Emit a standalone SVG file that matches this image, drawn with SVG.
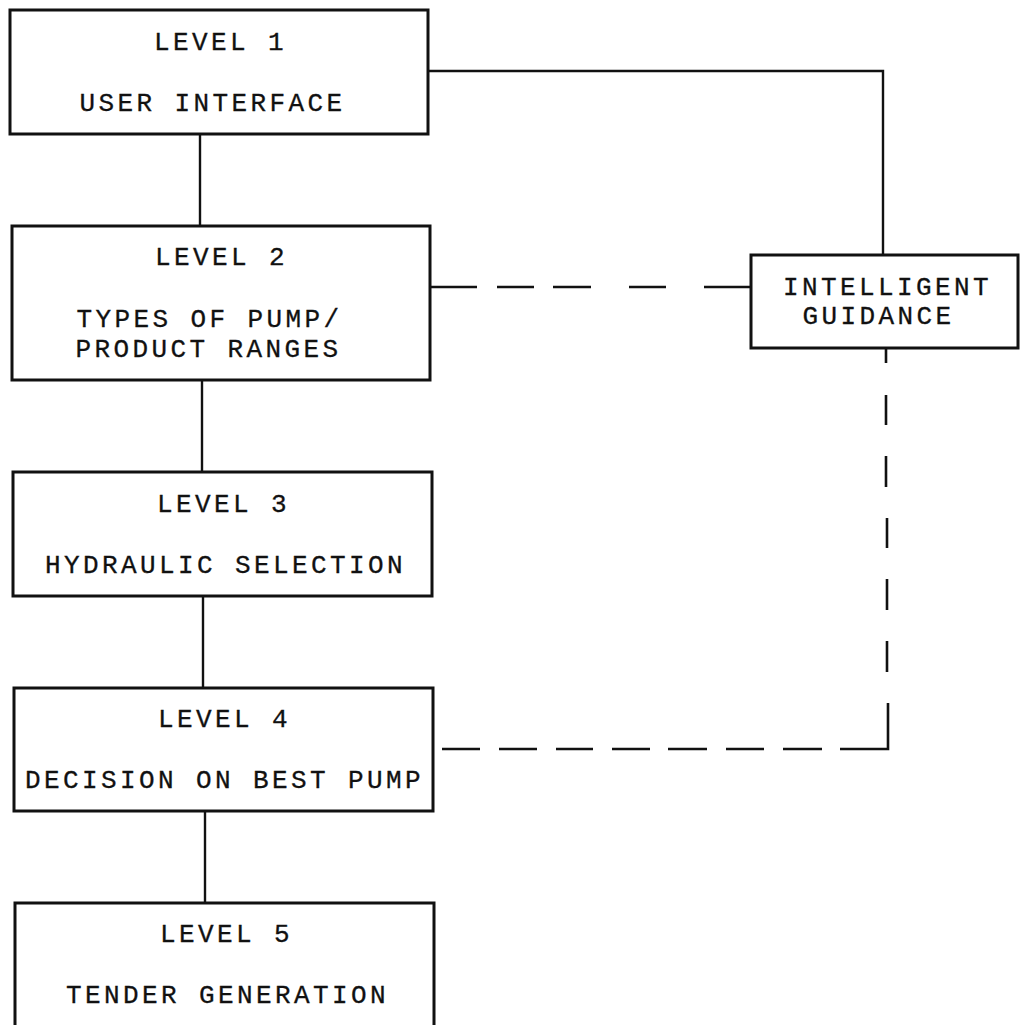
<svg xmlns="http://www.w3.org/2000/svg" width="1021" height="1025" viewBox="0 0 1021 1025">
  <style>
    .box { fill: none; stroke: #111; stroke-width: 3; }
    .link { stroke: #111; stroke-width: 2.4; fill: none; }
    .dash { stroke: #111; stroke-width: 2.6; fill: none; }
    text { font-family: "Liberation Mono", "Courier New", monospace; font-size: 26px; letter-spacing: 3.4px; fill: #111; text-anchor: middle; stroke: #111; stroke-width: 0.3; }
  </style>
  <rect width="1021" height="1025" fill="#fff"/>

  <g id="connectors">
    <!-- solid links down the level stack -->
    <line class="link" x1="200" y1="134" x2="200" y2="226"/>
    <line class="link" x1="202" y1="380" x2="202" y2="472"/>
    <line class="link" x1="203" y1="596" x2="203" y2="688"/>
    <line class="link" x1="205" y1="811" x2="205" y2="903"/>
    <!-- level 1 to guidance -->
    <polyline class="link" points="428,71 883,71 883,255"/>
    <!-- level 2 to guidance, dashed -->
    <g class="dash">
      <line x1="431" y1="287" x2="477" y2="287"/>
      <line x1="497" y1="287" x2="534" y2="287"/>
      <line x1="553" y1="287" x2="591" y2="287"/>
      <line x1="629" y1="287" x2="666" y2="287"/>
      <line x1="704" y1="287" x2="751" y2="287"/>
    </g>
    <!-- guidance to level 4, dashed -->
    <g class="dash">
      <line x1="886" y1="348" x2="886" y2="363"/>
      <line x1="886" y1="395" x2="886" y2="425"/>
      <line x1="886" y1="456" x2="886" y2="487"/>
      <line x1="887" y1="518" x2="887" y2="548"/>
      <line x1="887" y1="579" x2="887" y2="610"/>
      <line x1="887" y1="641" x2="887" y2="672"/>
      <polyline points="888,703 888,749 840,749"/>
      <line x1="783" y1="749" x2="822" y2="749"/>
      <line x1="726" y1="749" x2="764" y2="749"/>
      <line x1="668" y1="749" x2="707" y2="749"/>
      <line x1="612" y1="749" x2="650" y2="749"/>
      <line x1="556" y1="749" x2="593" y2="749"/>
      <line x1="499" y1="749" x2="537" y2="749"/>
      <line x1="442" y1="749" x2="480" y2="749"/>
    </g>
  </g>

  <g id="level1">
    <rect class="box" x="10" y="10" width="418" height="124"/>
    <text x="220.5" y="50">LEVEL 1</text>
    <text x="212.5" y="111">USER INTERFACE</text>
  </g>

  <g id="level2">
    <rect class="box" x="12" y="226" width="418" height="154"/>
    <text x="221.5" y="265">LEVEL 2</text>
    <text y="327"><tspan x="209.5">TYPES OF PUMP/</tspan><tspan x="208.5" dy="30">PRODUCT RANGES</tspan></text>
  </g>

  <g id="level3">
    <rect class="box" x="13" y="472" width="419" height="124"/>
    <text x="223.5" y="512">LEVEL 3</text>
    <text x="225.5" y="573">HYDRAULIC SELECTION</text>
  </g>

  <g id="level4">
    <rect class="box" x="14" y="688" width="419" height="123"/>
    <text x="224.5" y="727">LEVEL 4</text>
    <text x="224.5" y="788">DECISION ON BEST PUMP</text>
  </g>

  <g id="level5">
    <rect class="box" x="15" y="903" width="419" height="130"/>
    <text x="226.5" y="942">LEVEL 5</text>
    <text x="227.5" y="1003">TENDER GENERATION</text>
  </g>

  <g id="guidance">
    <rect class="box" x="751" y="255" width="267" height="93"/>
    <text y="295"><tspan x="887.5">INTELLIGENT</tspan><tspan x="878.5" dy="29">GUIDANCE</tspan></text>
  </g>
</svg>
